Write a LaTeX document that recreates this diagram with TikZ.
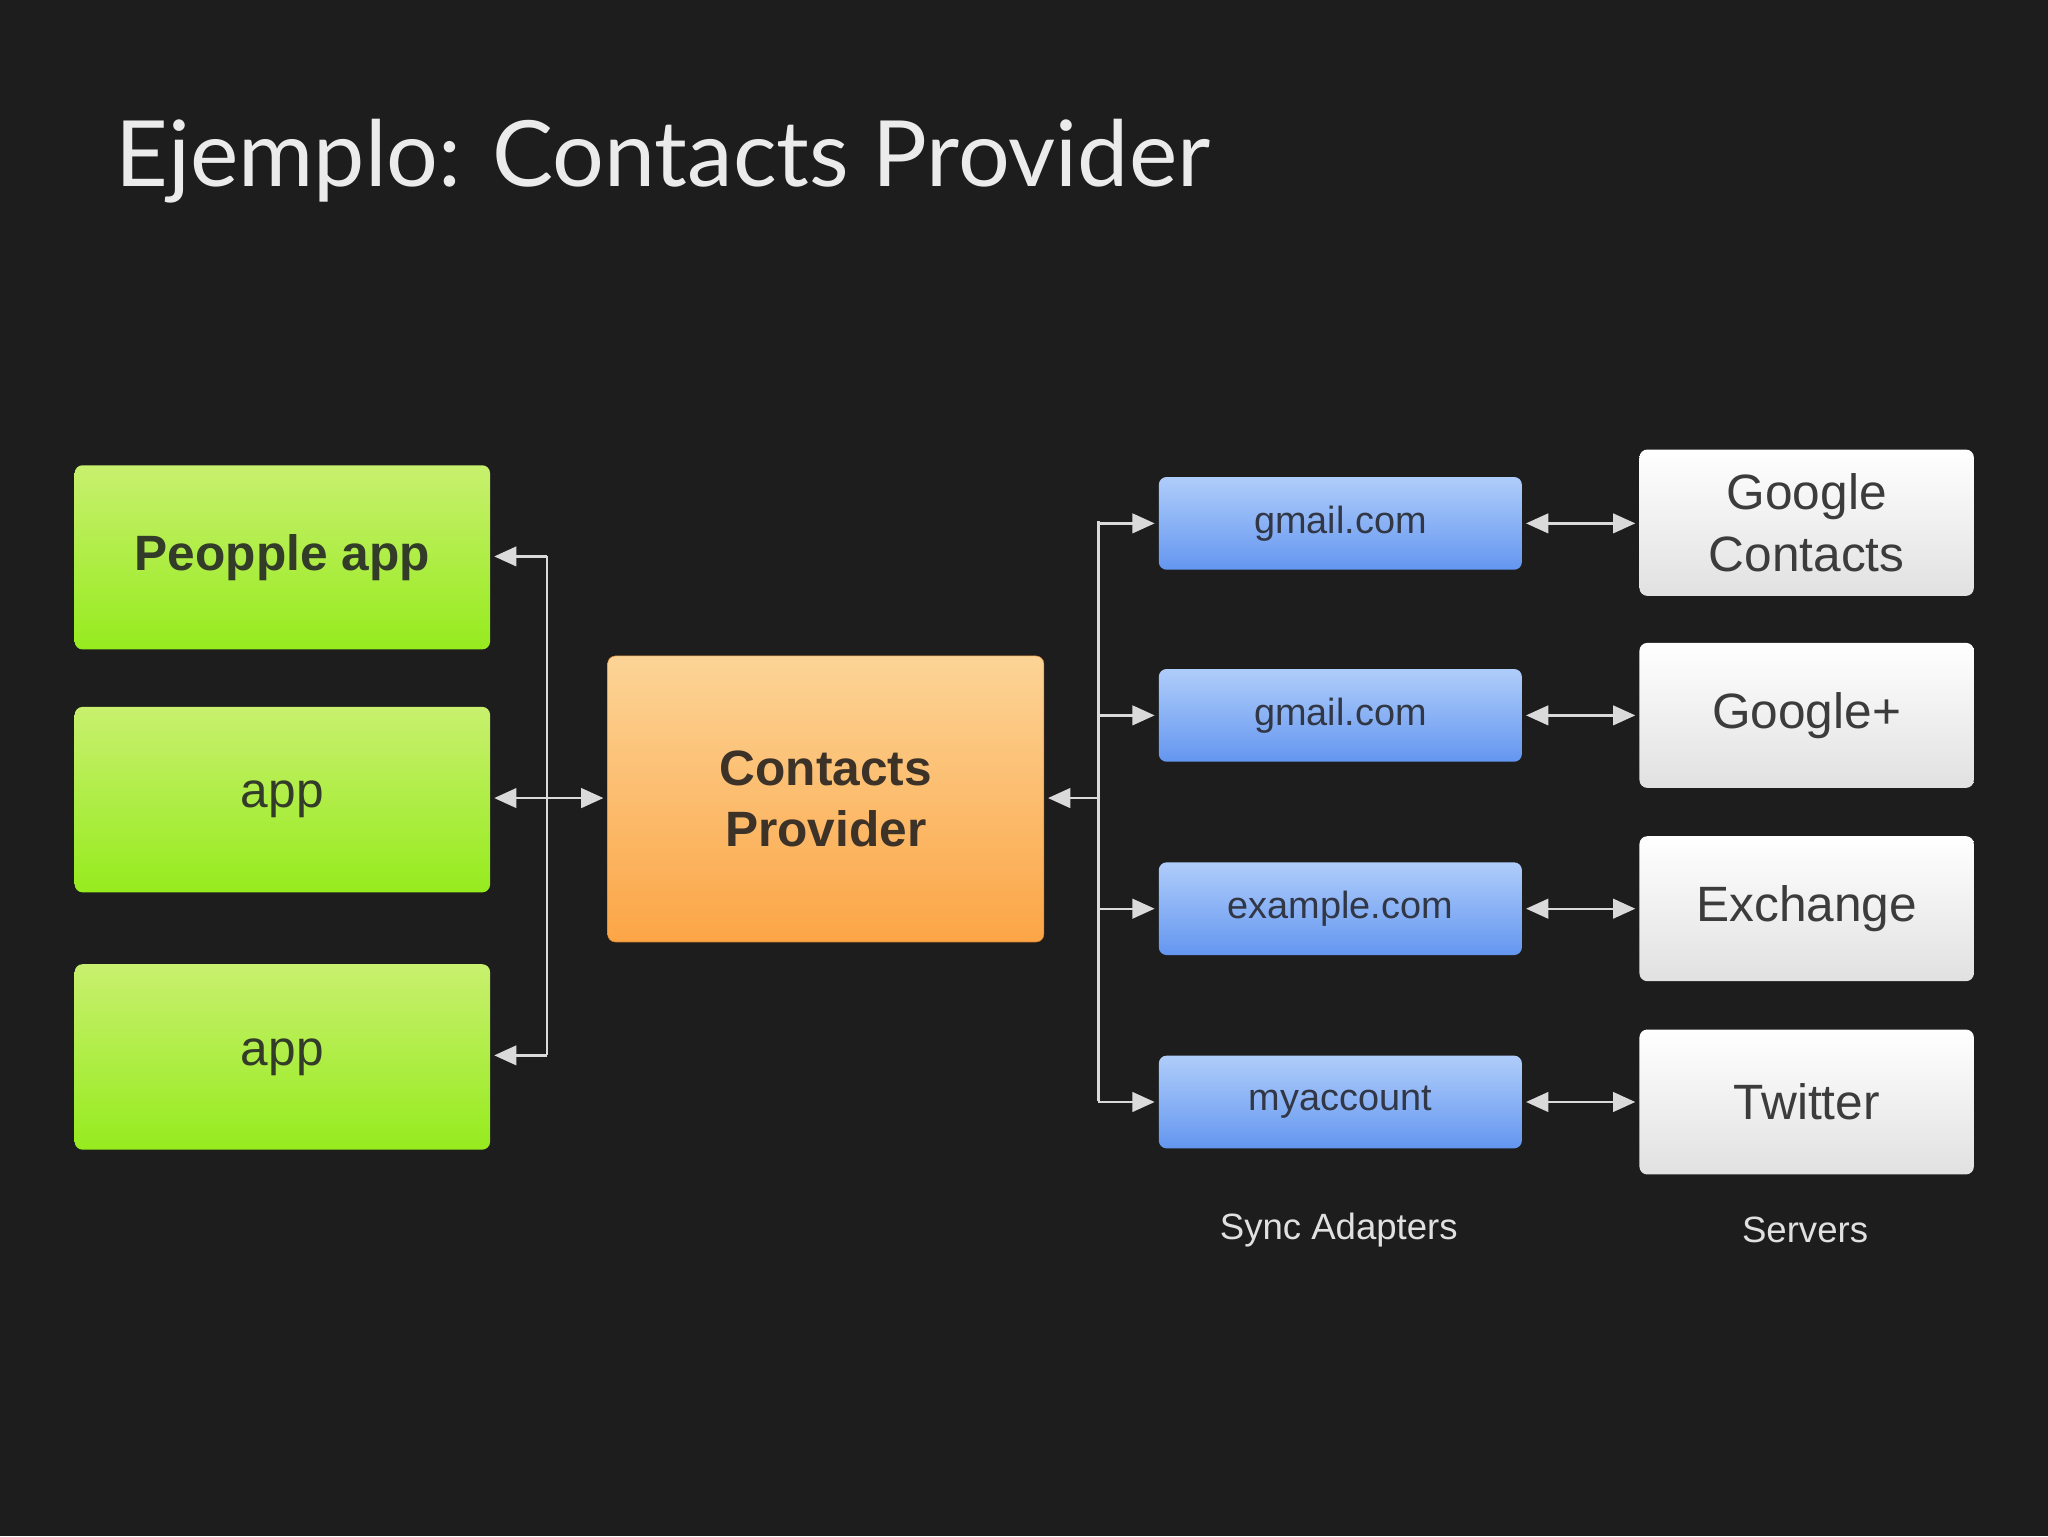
\documentclass[tikz,border=0pt]{standalone}
\usepackage{fontspec}
\setmainfont{Liberation Sans}
\newfontfamily\titlefont{Lato}
\usetikzlibrary{arrows.meta}
\definecolor{bg}{HTML}{1D1D1D}
\definecolor{ln}{HTML}{DADADA}
\tikzset{
 base/.style={rounded corners=6pt, inner sep=0pt, anchor=north west},
 gbox/.style={base, top color={rgb,255:red,200;green,240;blue,110}, bottom color={rgb,255:red,150;green,235;blue,30}, text={rgb,255:red,50;green,60;blue,40}},
 obox/.style={base, top color={rgb,255:red,252;green,212;blue,150}, bottom color={rgb,255:red,252;green,165;blue,70}, draw={rgb,255:red,210;green,130;blue,50}, text={rgb,255:red,60;green,50;blue,40}},
 bbox/.style={base, top color={rgb,255:red,175;green,205;blue,250}, bottom color={rgb,255:red,100;green,150;blue,240}, text={rgb,255:red,50;green,55;blue,70}},
 wbox/.style={base, top color=white, bottom color={rgb,255:red,225;green,225;blue,225}, text={rgb,255:red,60;green,60;blue,60}},
 conn/.style={draw=ln, line width=1.8pt},
 ar/.style={conn, -{Triangle[length=17pt,width=15pt]}},
 dar/.style={conn, {Triangle[length=17pt,width=15pt]}-{Triangle[length=17pt,width=15pt]}},
}
\begin{document}
\begin{tikzpicture}[x=1pt,y=-1pt]
\fill[bg] (0,0) rectangle (1568,1176);
\useasboundingbox (0,0) rectangle (1568,1176);
\node[anchor=base west, text=white!92!black, font=\titlefont\fontsize{70}{80}\selectfont] (title) at (85,143) {Ejemplo: Contacts Provider};
% green
\node[gbox, minimum width=318pt, minimum height=141pt, font=\bfseries\fontsize{38}{44}\selectfont] (g1) at (57,356) {Peopple app};
\node[gbox, minimum width=318pt, minimum height=142pt, font=\fontsize{38}{44}\selectfont] (g2) at (57,541) {app};
\node[gbox, minimum width=318pt, minimum height=142pt, font=\fontsize{38}{44}\selectfont] (g3) at (57,738) {app};
% orange
\node[obox, minimum width=334pt, minimum height=219pt, align=center, font=\bfseries\fontsize{38}{47}\selectfont] (cp) at (465,502) {Contacts\\Provider};
% blue
\foreach \n/\y/\t in {b1/365/gmail.com, b2/512/gmail.com, b3/660/example.com, b4/808/myaccount}
 \node[bbox, minimum width=278pt, minimum height=71pt, font=\fontsize{29}{34}\selectfont] (\n) at (887,\y) {\t};
% white
\node[wbox, minimum width=256pt, minimum height=112pt, align=center, font=\fontsize{38}{47}\selectfont] (w1) at (1255,344) {Google\\Contacts};
\node[wbox, minimum width=256pt, minimum height=111pt, font=\fontsize{38}{44}\selectfont] (w2) at (1255,492) {Google+};
\node[wbox, minimum width=256pt, minimum height=111pt, font=\fontsize{38}{44}\selectfont] (w3) at (1255,640) {Exchange};
\node[wbox, minimum width=256pt, minimum height=111pt, font=\fontsize{38}{44}\selectfont] (w4) at (1255,788) {Twitter};
\node[text=white!88!black, font=\fontsize{28}{32}\selectfont] (l1) at (1025,942) {Sync Adapters};
\node[text=white!88!black, font=\fontsize{28}{32}\selectfont] (l2) at (1382,942) {Servers};
% left connectors
\coordinate (lt) at (419,426);
\coordinate (lm) at (419,611);
\coordinate (lb) at (419,808);
\draw[conn] (lt) -- (lb);
\draw[ar] (lt) -- ([xshift=3pt]g1.east |- lt);
\draw[ar] (lm) -- ([xshift=3pt]g2.east |- lm);
\draw[ar] (lb) -- ([xshift=3pt]g3.east |- lb);
\draw[ar] (lm) -- ([xshift=-3pt]cp.west |- lm);
% right connectors
\coordinate (rt) at (841,399);
\coordinate (rm) at (841,611);
\coordinate (rb) at (841,843);
\draw[conn] (rt) -- (rb);
\draw[ar] (rm) -- ([xshift=3pt]cp.east |- rm);
\foreach \b in {b1,b2,b3,b4}
 \draw[ar] (rt |- \b.west) -- ([xshift=-3pt]\b.west);
\foreach \b/\w in {b1/w1,b2/w2,b3/w3,b4/w4}
 \draw[dar] ([xshift=3pt]\b.east) -- ([xshift=-3pt]\w.west |- \b.east);
\end{tikzpicture}
\end{document}
